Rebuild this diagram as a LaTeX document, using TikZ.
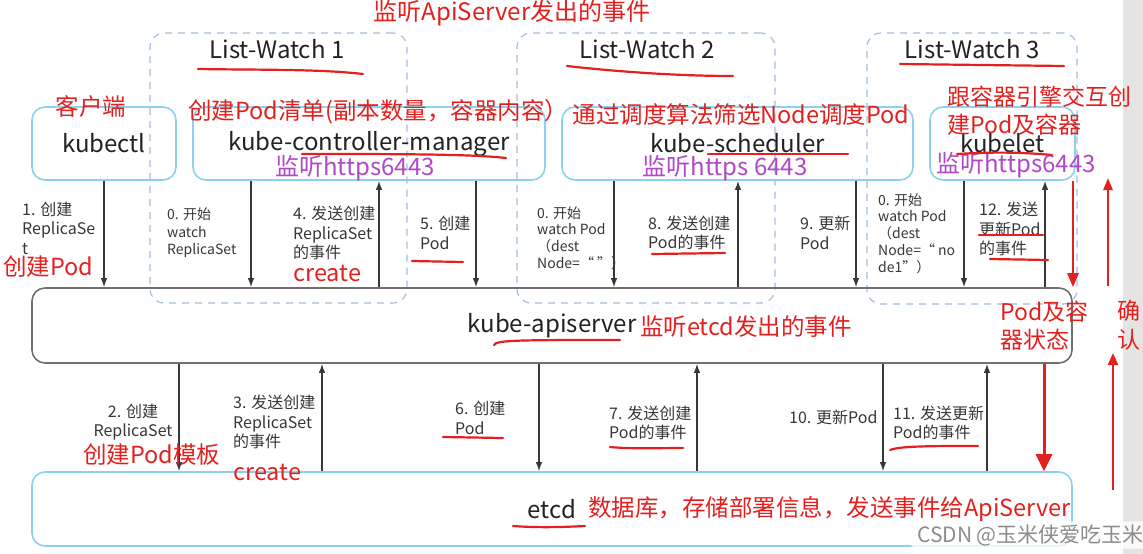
\documentclass[tikz,border=0pt]{standalone}
\usepackage{fontspec}
\setmainfont{Noto Sans CJK SC}
\usetikzlibrary{arrows.meta}
\definecolor{boxblue}{RGB}{140,210,240}
\definecolor{dashblue}{RGB}{160,190,222}
\definecolor{boxgray}{RGB}{112,112,112}
\definecolor{myred}{RGB}{228,32,30}
\definecolor{mypurple}{RGB}{176,72,200}
\definecolor{txtdark}{RGB}{34,34,34}
\definecolor{txtgray}{RGB}{55,55,55}
\definecolor{stripgray}{RGB}{228,228,228}
\definecolor{wmgray}{RGB}{140,140,140}
\newcommand\myfs[2]{\fontsize{#1}{#2}\selectfont}
\begin{document}
\begin{tikzpicture}[x=1pt,y=-1pt,
 bluebox/.style={draw=boxblue,line width=1.6pt,rounded corners=13pt,inner sep=0pt,text=txtdark,font=\myfs{24}{28}},
 graybox/.style={draw=boxgray,line width=1.6pt,rounded corners=13pt,inner sep=0pt,text=txtdark,font=\myfs{24}{28}},
 dashbox/.style={draw=dashblue,line width=1.2pt,dash pattern=on 7pt off 6pt,rounded corners=14pt,inner sep=0pt},
 lwtitle/.style={text=txtdark,font=\myfs{24}{28},inner sep=0pt},
 redlbl/.style={text=myred,font=\myfs{23.5}{28},inner sep=0pt,align=left},
 purlbl/.style={text=mypurple,font=\myfs{24}{28},inner sep=0pt},
 steplbl/.style={text=txtgray,font=\myfs{16}{19.5},inner sep=0pt,align=left,anchor=west},
 watchlbl/.style={text=txtgray,font=\myfs{14}{16.8},inner sep=0pt,align=left,anchor=west},
 arr/.style={draw=txtgray,line width=1.3pt,-{Latex[length=9pt,width=6.5pt]}},
 bigarr/.style={draw=myred,line width=2.6pt,-{Triangle[length=14pt,width=11pt]}},
 uline/.style={draw=myred,line width=2.2pt,line cap=round},
]
\fill[white] (0,0) rectangle (1143,554);
\fill[stripgray] (1123,0) rectangle (1143,554);
\useasboundingbox (0,0) rectangle (1143,554);

% title
\node[redlbl,font=\myfs{24}{28}] (title) at (512,13) {监听ApiServer发出的事件};

% list-watch dashed groups
\node[dashbox,minimum width=257pt,minimum height=270pt] (lw1) at (278.5,168) {};
\node[dashbox,minimum width=258pt,minimum height=270pt] (lw2) at (646,168) {};
\node[dashbox,minimum width=210pt,minimum height=271pt] (lw3) at (972,168.5) {};
\node[lwtitle] (lw1t) at (277,49) {List-Watch 1};
\node[lwtitle] (lw2t) at (647,49) {List-Watch 2};
\node[lwtitle] (lw3t) at (972,49) {List-Watch 3};

% components
\node[bluebox,minimum width=144pt,minimum height=73pt] (kubectl) at (104,143.5) {kubectl};
\node[bluebox,minimum width=352pt,minimum height=73pt] (cm) at (369,143.5) {kube-controller-manager};
\node[bluebox,minimum width=351pt,minimum height=73pt] (sched) at (737.5,143.5) {kube-scheduler};
\node[bluebox,minimum width=145pt,minimum height=73pt] (kubelet) at (1002.5,143.5) {kubelet};
\node[graybox,minimum width=1040pt,minimum height=75pt] (api) at (552,325.5) {kube-apiserver};
\node[bluebox,minimum width=1040pt,minimum height=74pt] (etcd) at (552,509) {etcd};

% red labels near components
\node[redlbl] (rclient) at (91,107) {客户端};
\node[redlbl] (rcm) at (378,112) {创建Pod清单(副本数量，容器内容）};
\node[redlbl] (rsched) at (741,115) {通过调度算法筛选Node调度Pod};
\node[redlbl,anchor=west,font=\myfs{23}{28}] (rkubelet) at (947,111) {跟容器引擎交互创\\建Pod及容器};
\node[purlbl] (pcm) at (355,168) {监听https6443};
\node[purlbl] (psched) at (725,168) {监听https 6443};
\node[purlbl] (pkubelet) at (1016,165) {监听https6443};
\node[redlbl,anchor=west] (rapi) at (640,327) {监听etcd发出的事件};
\node[redlbl,anchor=west] (retcd) at (588,509) {数据库，存储部署信息，发送事件给ApiServer};
\node[redlbl,anchor=west,font=\myfs{23}{28}] (rstate) at (1000,326) {Pod及容\\器状态};
\node[redlbl,align=center,font=\myfs{23}{29}] (rconfirm) at (1129,325) {确\\认};

% top row connectors
\draw[arr] (kubectl.south) -- (kubectl.south |- api.north);
\draw[arr] (cm.south -| 251,0) -- (api.north -| 251,0);
\draw[arr] (api.north -| 379,0) -- (cm.south -| 379,0);
\draw[arr] (cm.south -| 476,0) -- (api.north -| 476,0);
\draw[arr] (sched.south -| 614,0) -- (api.north -| 614,0);
\draw[arr] (api.north -| 738,0) -- (sched.south -| 738,0);
\draw[arr] (sched.south -| 856,0) -- (api.north -| 856,0);
\draw[arr] (kubelet.south -| 964,0) -- (api.north -| 964,0);
\draw[arr] (api.north -| 1045,0) -- (kubelet.south -| 1045,0);

% bottom row connectors
\draw[arr] (api.south -| 179,0) -- (etcd.north -| 179,0);
\draw[arr] (etcd.north -| 322,0) -- (api.south -| 322,0);
\draw[arr] (api.south -| 539,0) -- (etcd.north -| 539,0);
\draw[arr] (etcd.north -| 697,0) -- (api.south -| 697,0);
\draw[arr] (api.south -| 883,0) -- (etcd.north -| 883,0);
\draw[arr] (etcd.north -| 987,0) -- (api.south -| 987,0);

% red status arrows
\draw[bigarr] (kubelet.south -| 1073,0) -- (api.north -| 1073,0);
\coordinate (ackA) at (1108,286);
\coordinate (ackB) at (1108,178);
\draw[bigarr,-{Triangle[length=12pt,width=9pt]}] (ackA) -- (ackB);
\draw[bigarr,line width=3pt,-{Triangle[length=17pt,width=16pt]}] (api.south -| 1044,0) -- (etcd.north -| 1044,0);
\coordinate (ackC) at (1113,490);
\coordinate (ackD) at (1113,353);
\draw[bigarr,-{Triangle[length=12pt,width=10pt]}] (ackC) -- (ackD);

% top row step labels
\node[steplbl] (t1) at (22,228) {1. 创建\\ReplicaSe\\t};
\node[redlbl,anchor=west] (t1r) at (3,267) {创建Pod};
\node[watchlbl,font=\myfs{14}{17.5}] (t0a) at (167,233) {0. 开始\\watch\\ReplicaSet};
\node[steplbl] (t4) at (293,233) {4. 发送创建\\ReplicaSet\\的事件};
\node[redlbl,anchor=west] (t4r) at (293,273) {create};
\node[steplbl] (t5) at (420,233) {5. 创建\\Pod};
\node[watchlbl] (t0b) at (537,238) {0. 开始\\watch Pod\\（dest\\Node=“ ”）};
\node[steplbl] (t8) at (648,233) {8. 发送创建\\Pod的事件};
\node[steplbl] (t9) at (800,233) {9. 更新\\Pod};
\node[watchlbl] (t0c) at (878,233.5) {0. 开始\\watch Pod\\（dest\\Node=“ no\\de1”）};
\node[steplbl] (t12) at (979,229) {12. 发送\\更新Pod\\的事件};

% bottom row step labels
\node[steplbl,align=center,anchor=center] (b2) at (133,422) {2. 创建\\ReplicaSet};
\node[redlbl,anchor=west] (b2r) at (83,455) {创建Pod模板};
\node[steplbl] (b3) at (233,422) {3. 发送创建\\ReplicaSet\\的事件};
\node[redlbl,anchor=west] (b3r) at (233,472) {create};
\node[steplbl] (b6) at (455,418) {6. 创建\\Pod};
\node[steplbl] (b7) at (609,423) {7. 发送创建\\Pod的事件};
\node[steplbl] (b10) at (789,417) {10. 更新Pod};
\node[steplbl] (b11) at (893,423) {11. 发送更新\\Pod的事件};

% red hand-drawn underlines
\draw[uline] (198,69) .. controls (260,70) and (320,69) .. (363,74);
\draw[uline] (567,66) .. controls (620,72) and (680,76) .. (733,76);
\draw[uline] (900,64) -- (1064,66);
\draw[uline] (302,154) .. controls (400,154) and (470,154) .. (506,158);
\draw[uline] (708,154) -- (848,154);
\draw[uline] (957,154) .. controls (990,152) and (1020,152) .. (1052,155);
\draw[uline] (494,345) .. controls (496,340) and (520,340) .. (620,340);
\draw[uline] (412,261) -- (463,262);
\draw[uline] (652,254) -- (725,253);
\draw[uline] (979,235) -- (1043,235);
\draw[uline] (990,259) -- (1048,260);
\draw[uline] (443,437) -- (503,438);
\draw[uline] (610,447) .. controls (630,449) and (660,448) .. (683,448);
\draw[uline] (890,450) .. controls (900,446) and (930,446) .. (978,446);
\draw[uline] (513,526) .. controls (540,528) and (565,527) .. (585,526);

% watermark
\node[fill=white,fill opacity=0.8,text opacity=1,rounded corners=12pt,text=wmgray,font=\myfs{21}{24},inner xsep=10pt,inner ysep=3pt,anchor=west] (wm) at (907,535) {CSDN @玉米侠爱吃玉米};
\end{tikzpicture}
\end{document}
